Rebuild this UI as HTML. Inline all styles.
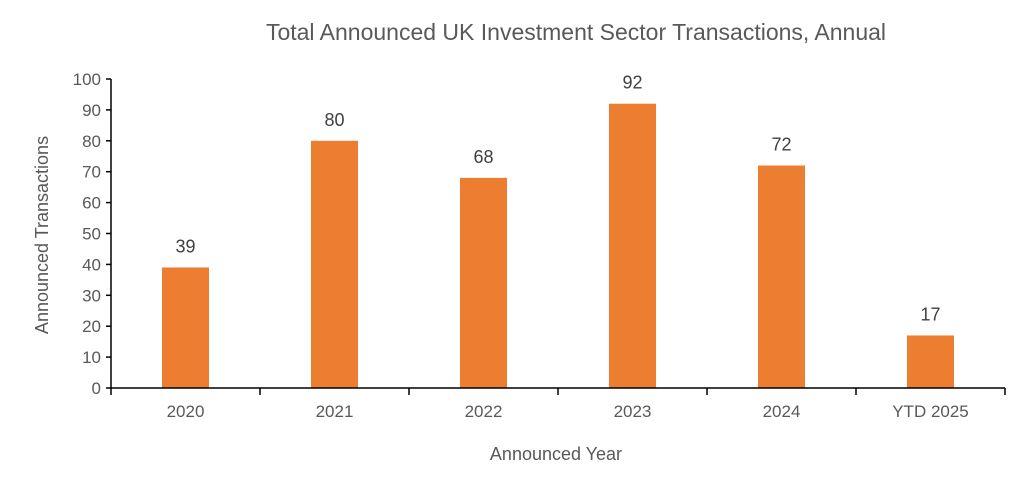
<!DOCTYPE html>
<html><head><meta charset="utf-8"><style>
body{margin:0;background:#fff;}
svg{display:block;font-family:"Liberation Sans",sans-serif;}
</style></head><body>
<svg id="c" width="1024" height="490" xmlns="http://www.w3.org/2000/svg">
<text x="576" y="40" text-anchor="middle" font-size="23" fill="#595959">Total Announced UK Investment Sector Transactions, Annual</text>
<text transform="translate(48,235) rotate(-90)" text-anchor="middle" font-size="18" fill="#595959">Announced Transactions</text>
<text x="556" y="460" text-anchor="middle" font-size="18" fill="#595959">Announced Year</text>
<g id="g"></g>
</svg>
<script>
const categories=["2020","2021","2022","2023","2024","YTD 2025"];
const values=[39,80,68,92,72,17];
const yTicks=[0,10,20,30,40,50,60,70,80,90,100];
const X0=111,X1=1005,Y0=388,Y1=79,ns="http://www.w3.org/2000/svg";
const bw=(X1-X0)/categories.length;
const y=v=>Y0-(v/100)*(Y0-Y1);
const xc=i=>X0+bw*(i+0.5);
const g=document.getElementById('g');
function mk(t,a,txt){const e=document.createElementNS(ns,t);for(const k in a)e.setAttribute(k,a[k]);if(txt!==undefined)e.textContent=txt;g.appendChild(e);return e;}
yTicks.forEach(t=>{
 const l=mk('line',{x1:X0-5,x2:X0,y1:y(t),y2:y(t),stroke:'#000','stroke-width':1.5});
 
 
 const tx=mk('text',{x:X0-10,y:y(t)+6,'text-anchor':'end','font-size':17,fill:'#595959'},t);
 
 
});
categories.forEach((c,i)=>{
 const v=values[i];
 const r=mk('rect',{x:xc(i)-23.5,y:y(v),width:47,height:Y0-y(v),fill:'#ED7D31'});
 
 
 const lb=mk('text',{x:xc(i),y:y(v)-15,'text-anchor':'middle','font-size':18,fill:'#404040'},v);
 
 
 const xl=mk('text',{x:xc(i),y:417,'text-anchor':'middle','font-size':17,fill:'#595959'},c);
 
 
});
for(let i=0;i<=categories.length;i++){
 const tk=mk('line',{x1:X0+bw*i,x2:X0+bw*i,y1:Y0,y2:Y0+7,stroke:'#000','stroke-width':1.5});
 
 
}
const ya=mk('line',{x1:X0,x2:X0,y1:Y1,y2:Y0,stroke:'#000','stroke-width':1.5});


const xa=mk('line',{x1:X0,x2:X1,y1:Y0,y2:Y0,stroke:'#000','stroke-width':1.5});


</script>
</body></html>
